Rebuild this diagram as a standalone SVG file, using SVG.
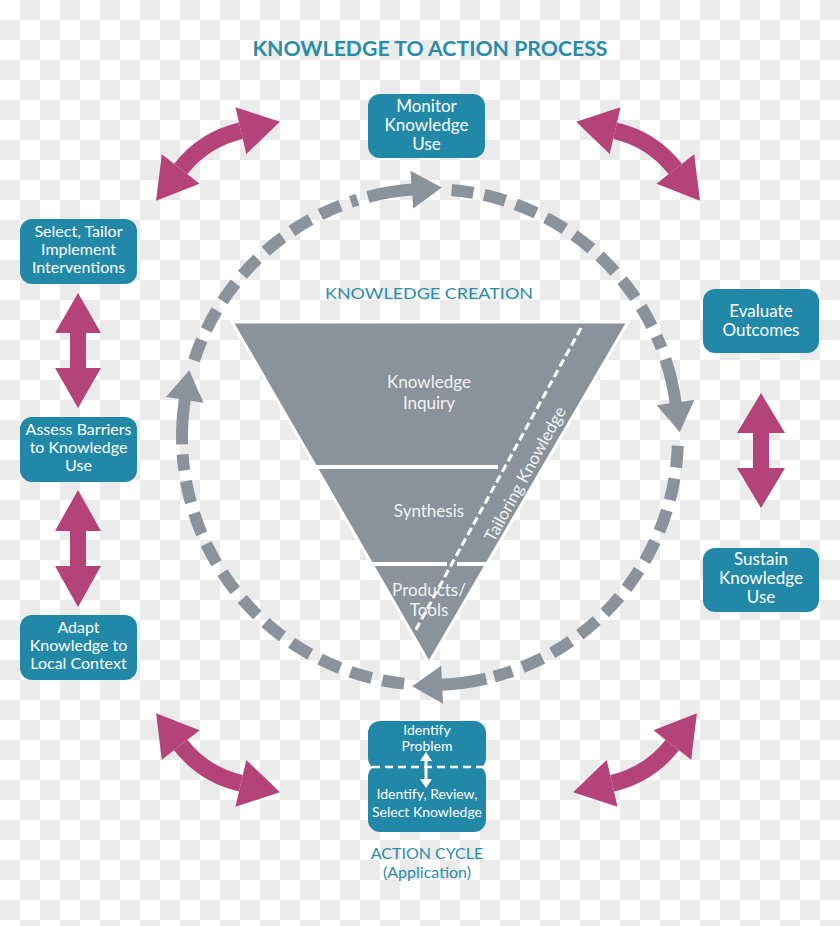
<svg xmlns="http://www.w3.org/2000/svg" xmlns:xlink="http://www.w3.org/1999/xlink" width="840" height="926" viewBox="0 0 840 926">
<defs>
<pattern id="checker" x="0" y="0" width="40" height="40" patternUnits="userSpaceOnUse">
<rect width="40" height="40" fill="#ffffff"/>
<rect x="20" y="0" width="20" height="20" fill="#ebebeb"/>
<rect x="0" y="20" width="20" height="20" fill="#ebebeb"/>
</pattern>
<g id="ringArrow">
<path d="M385.65,193 A248,248 0 0 1 431,189" fill="none" stroke="#8a939c" stroke-width="12"/>
<polygon points="430,170 460,189 430,208" fill="#8a939c"/>
</g>
<g id="mArrow">
<path d="M-35.7,-100.9 A107,107 0 0 1 35.7,-100.9" fill="none" stroke="#b4437a" stroke-width="17"/>
<polygon points="43.7,-123.5 73.4,-87.5 27.7,-78.3" fill="#b4437a"/>
<polygon points="-43.7,-123.5 -73.4,-87.5 -27.7,-78.3" fill="#b4437a"/>
</g>
</defs>
<style>
.box{fill:#2288a8;}
.bt{font-family:Lato,"Liberation Sans",sans-serif;font-size:16px;fill:#ffffff;text-anchor:middle;}
.bl{font-family:Lato,"Liberation Sans",sans-serif;font-size:17px;fill:#ffffff;text-anchor:middle;}
.st{font-family:Lato,"Liberation Sans",sans-serif;font-size:14px;fill:#ffffff;text-anchor:middle;}
.tt{font-family:Lato,"Liberation Sans",sans-serif;font-size:17px;fill:#f2f2f2;text-anchor:middle;}
.teal{font-family:Lato,"Liberation Sans",sans-serif;fill:#2a8ca9;text-anchor:middle;}
.dash{fill:none;stroke:#8a939c;stroke-width:12;stroke-dasharray:22 11;}
.mag{fill:#b4437a;}
</style>
<rect width="840" height="926" fill="url(#checker)"/>

<g id="title">
<text class="teal" x="430" y="56" font-size="20" font-weight="700" textLength="355" lengthAdjust="spacingAndGlyphs">KNOWLEDGE TO ACTION PROCESS</text>
</g>

<g id="connectors">
<path class="dash" d="M451.6,189.9 A248,248 0 0 1 661.5,348.1"/>
<path class="dash" d="M677.8,445.7 A248,248 0 0 1 494.2,676.6"/>
<path class="dash" d="M404.1,683.6 A248,248 0 0 1 182.6,454.3"/>
<path class="dash" d="M194.1,360.4 A248,248 0 0 1 357.5,199.8"/>
<use xlink:href="#ringArrow" transform="rotate(-4.2 430 437)"/>
<use xlink:href="#ringArrow" transform="rotate(82 430 437)"/>
<use xlink:href="#ringArrow" transform="rotate(177.2 430 437)"/>
<use xlink:href="#ringArrow" transform="rotate(278.6 430 437)"/>
<use xlink:href="#mArrow" transform="translate(265,235) rotate(-32.5)"/>
<use xlink:href="#mArrow" transform="translate(591,235) rotate(32.5)"/>
<use xlink:href="#mArrow" transform="translate(265,679) rotate(212.5)"/>
<use xlink:href="#mArrow" transform="translate(588,679) rotate(147.5)"/>
<polygon class="mag" points="78,293 101,333 86,333 86,368 101,368 78,408 55,368 70,368 70,333 55,333"/>
<polygon class="mag" points="78,490 101,531 86,531 86,566 101,566 78,607 55,566 70,566 70,531 55,531"/>
<polygon class="mag" points="761,393 785,433 769,433 769,468 785,468 761,508 737,468 753,468 753,433 737,433"/>
</g>

<g id="monitor">
<rect class="box" x="368" y="94" width="117" height="64" rx="12"/>
<text class="bl" x="426.5" y="112">Monitor</text>
<text class="bl" x="426.5" y="131">Knowledge</text>
<text class="bl" x="426.5" y="150">Use</text>
</g>

<g id="select">
<rect class="box" x="20" y="219" width="117" height="65" rx="12"/>
<text class="bt" x="78.5" y="237">Select, Tailor</text>
<text class="bt" x="78.5" y="255">Implement</text>
<text class="bt" x="78.5" y="273">Interventions</text>
</g>

<g id="assess">
<rect class="box" x="20" y="417" width="117" height="65" rx="12"/>
<text class="bt" x="78.5" y="435">Assess Barriers</text>
<text class="bt" x="78.5" y="453">to Knowledge</text>
<text class="bt" x="78.5" y="471">Use</text>
</g>

<g id="adapt">
<rect class="box" x="20" y="615" width="117" height="65" rx="12"/>
<text class="bt" x="78.5" y="633">Adapt</text>
<text class="bt" x="78.5" y="651">Knowledge to</text>
<text class="bt" x="78.5" y="669">Local Context</text>
</g>

<g id="evaluate">
<rect class="box" x="703" y="289" width="116" height="64" rx="12"/>
<text class="bl" x="761" y="317">Evaluate</text>
<text class="bl" x="761" y="336">Outcomes</text>
</g>

<g id="sustain">
<rect class="box" x="703" y="548" width="116" height="64" rx="12"/>
<text class="bl" x="761" y="565">Sustain</text>
<text class="bl" x="761" y="584">Knowledge</text>
<text class="bl" x="761" y="603">Use</text>
</g>

<g id="knowledge-creation">
<text class="teal" x="429" y="299" font-size="16" textLength="208" lengthAdjust="spacingAndGlyphs">KNOWLEDGE CREATION</text>
<polygon points="232,322 628,322 429,663" fill="#8a939c" stroke="#ffffff" stroke-width="3"/>
<line x1="316" y1="467" x2="498" y2="467" stroke="#ffffff" stroke-width="4"/>
<line x1="372" y1="564" x2="447" y2="564" stroke="#ffffff" stroke-width="4"/>
<line x1="457" y1="564" x2="487" y2="564" stroke="#ffffff" stroke-width="4"/>
<line x1="581" y1="328" x2="414" y2="633" stroke="#ffffff" stroke-width="3" stroke-dasharray="8 4"/>
<text class="tt" x="429" y="388">Knowledge</text>
<text class="tt" x="429" y="409">Inquiry</text>
<text class="tt" x="429" y="517">Synthesis</text>
<text class="tt" x="429" y="596">Products/</text>
<text class="tt" x="429" y="616">Tools</text>
<text class="tt" transform="translate(525,474) rotate(-61.3)" x="0" y="6" font-size="18">Tailoring Knowledge</text>
</g>

<g id="action-cycle">
<rect class="box" x="368" y="721" width="118" height="49" rx="12"/>
<rect class="box" x="368" y="765" width="118" height="67" rx="12"/>
<line x1="372" y1="767" x2="483" y2="767" stroke="#ffffff" stroke-width="2.5" stroke-dasharray="8 5"/>
<line x1="426" y1="758" x2="426" y2="782" stroke="#ffffff" stroke-width="3"/>
<polygon points="426,752 420,761 432,761" fill="#ffffff"/>
<polygon points="426,788 420,779 432,779" fill="#ffffff"/>
<text class="st" x="427" y="735" font-size="13">Identify</text>
<text class="st" x="427" y="751" font-size="13">Problem</text>
<text class="st" x="427" y="799">Identify, Review,</text>
<text class="st" x="427" y="817">Select Knowledge</text>
<text class="teal" x="427" y="859" font-size="16">ACTION CYCLE</text>
<text class="teal" x="427" y="878" font-size="16">(Application)</text>
</g>
</svg>
